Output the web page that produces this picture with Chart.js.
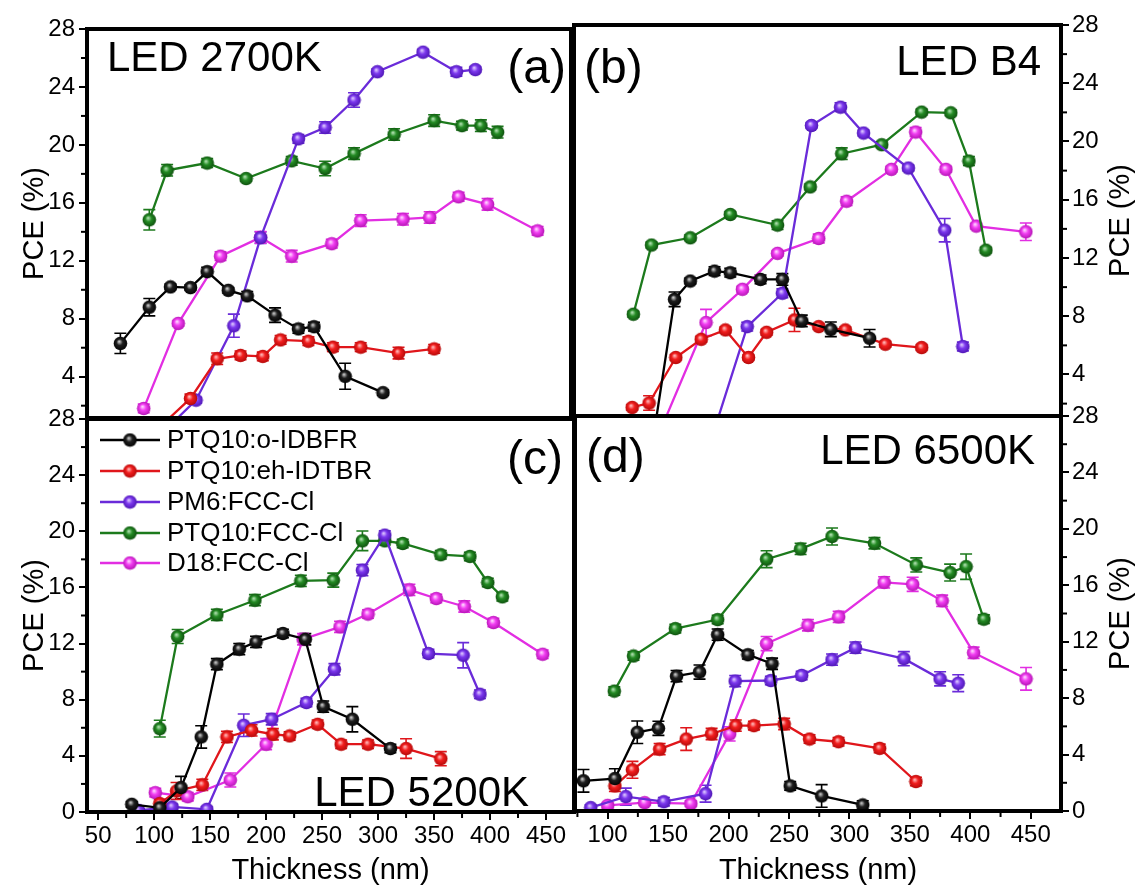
<!DOCTYPE html>
<html><head><meta charset="utf-8">
<script src="https://cdn.jsdelivr.net/npm/chart.js@4.4.0/dist/chart.umd.min.js"></script>
<style>
html,body{margin:0;padding:0;background:#fff;}
#wrap{position:relative;width:1138px;height:888px;overflow:hidden;background:#fff;}
#wrap canvas{position:absolute;left:0;top:0;}
</style></head>
<body><div id="wrap">
<canvas id="pa" width="1138" height="888"></canvas>
<canvas id="pb" width="1138" height="888"></canvas>
<canvas id="pc" width="1138" height="888"></canvas>
<canvas id="pd" width="1138" height="888"></canvas>
</div>
<script>
// ---------- data ----------
const SERIES_NAMES = ['PTQ10:o-IDBFR','PTQ10:eh-IDTBR','PM6:FCC-Cl','PTQ10:FCC-Cl','D18:FCC-Cl'];
const Y_TICKS_TOP = [4,8,12,16,20,24,28];
const Y_TICKS_BOTTOM = [0,4,8,12,16,20,24,28];
const Y_MINOR = [2,6,10,14,18,22,26];
const X_TICKS_C = [50,100,150,200,250,300,350,400,450];
const X_TICKS_D = [100,150,200,250,300,350,400,450];
const X_MINOR = [75,125,175,225,275,325,375,425];

// (a) LED 2700K
const A_X_IDBFR = [70,96,115,133,148,167,184,209,230,244,272,306];
const A_Y_IDBFR = [6.3,8.8,10.2,10.15,11.25,9.96,9.58,8.25,7.3,7.45,4.03,2.9];
const A_E_IDBFR = [0.7,0.6,0.2,0.2,0.3,0.2,0.3,0.5,0.3,0.3,0.9,0.2];
const A_X_IDTBR = [105,133,157,178,198,214,239,261,286,320,352];
const A_Y_IDTBR = [0.5,2.5,5.24,5.47,5.4,6.54,6.45,6.04,6.04,5.63,5.92];
const A_E_IDTBR = [0.2,0.3,0.4,0.3,0.3,0.3,0.3,0.3,0.3,0.4,0.3];
const A_X_PM6 = [110,138,172,196,230,254,280,301,342,372,389];
const A_Y_PM6 = [0.3,2.38,7.52,13.6,20.42,21.2,23.1,25.05,26.4,25.05,25.2];
const A_E_PM6 = [0.2,0.2,0.8,0.4,0.3,0.4,0.5,0.2,0.2,0.3,0.2];
const A_X_PTQ = [96,112,148,183,224,254,280,316,352,377,394,409];
const A_Y_PTQ = [14.83,18.25,18.75,17.68,18.9,18.37,19.4,20.72,21.68,21.33,21.33,20.88];
const A_E_PTQ = [0.7,0.4,0.3,0.2,0.3,0.5,0.4,0.4,0.4,0.3,0.4,0.4];
const A_X_D18 = [91,122,160,196,224,260,286,324,348,374,400,445];
const A_Y_D18 = [1.81,7.68,12.32,13.62,12.32,13.18,14.78,14.87,14.99,16.42,15.9,14.07];
const A_E_D18 = [0.3,0.2,0.3,0.4,0.4,0.3,0.4,0.4,0.4,0.3,0.4,0.3];

// (b) LED B4
const B_X_IDBFR = [140,156,169,189,202,227,245,261,285,317];
const B_Y_IDBFR = [0.5,9.16,10.42,11.1,10.99,10.53,10.53,7.68,7.1,6.49];
const B_E_IDBFR = [0.2,0.5,0.2,0.3,0.3,0.3,0.4,0.4,0.5,0.6];
const B_X_IDTBR = [121,135,157,178,198,217,232,255,275,297,330,360];
const B_Y_IDTBR = [1.74,2.04,5.17,6.42,7.06,5.17,6.9,7.75,7.29,7.06,6.08,5.85];
const B_E_IDTBR = [0.2,0.5,0.2,0.2,0.2,0.2,0.2,0.8,0.2,0.2,0.2,0.2];
const B_X_PM6 = [190,216,245,269,293,312,349,379,394];
const B_Y_PM6 = [0.5,7.29,9.58,21.1,22.36,20.58,18.18,13.91,5.92];
const B_E_PM6 = [0.2,0.3,0.3,0.2,0.3,0.2,0.2,0.8,0.3];
const B_X_PTQ = [122,137,169,202,241,268,294,327,360,384,399,413];
const B_Y_PTQ = [8.14,12.89,13.39,14.99,14.26,16.88,19.16,19.78,22.02,21.97,18.66,12.54];
const B_E_PTQ = [0.2,0.2,0.2,0.2,0.3,0.2,0.4,0.2,0.2,0.2,0.3,0.2];
const B_X_D18 = [145,182,212,241,275,298,335,355,380,405,446];
const B_Y_D18 = [0.3,7.57,9.85,12.32,13.34,15.9,18.09,20.65,18.09,14.19,13.8];
const B_E_D18 = [0.2,0.9,0.2,0.2,0.3,0.3,0.2,0.3,0.2,0.2,0.6];

// (c) LED 5200K
const C_X_IDBFR = [80,105,124,142,156,176,191,215,235,251,277,311];
const C_Y_IDBFR = [0.55,0.3,1.74,5.35,10.53,11.6,12.12,12.72,12.31,7.51,6.61,4.52];
const C_E_IDBFR = [0.2,0.2,0.8,0.8,0.4,0.4,0.4,0.3,0.4,0.4,0.9,0.3];
const C_X_IDTBR = [105,120,143,165,187,206,221,246,267,291,325,356];
const C_Y_IDTBR = [0.6,1.5,1.93,5.35,5.82,5.54,5.42,6.25,4.83,4.83,4.52,3.8];
const C_E_IDTBR = [0.3,0.6,0.4,0.4,0.4,0.4,0.3,0.3,0.3,0.3,0.7,0.5];
const C_X_PM6 = [86,116,147,180,205,236,261,286,306,345,376,391];
const C_Y_PM6 = [0.12,0.36,0.19,6.18,6.61,7.8,10.17,17.23,19.73,11.29,11.17,8.39];
const C_E_PM6 = [0.1,0.2,0.2,0.8,0.4,0.3,0.4,0.4,0.3,0.3,0.9,0.3];
const C_X_PTQ = [105,121,156,190,231,260,286,306,322,356,382,398,411];
const C_Y_PTQ = [5.94,12.5,14.05,15.09,16.47,16.52,19.32,19.32,19.13,18.33,18.21,16.35,15.33];
const C_E_PTQ = [0.6,0.5,0.4,0.4,0.4,0.5,0.7,0.3,0.3,0.3,0.3,0.3,0.3];
const C_X_D18 = [101,130,168,200,233,266,291,328,352,377,403,447];
const C_Y_D18 = [1.38,1.09,2.28,4.83,12.31,13.19,14.1,15.83,15.21,14.64,13.5,11.24];
const C_E_D18 = [0.3,0.3,0.5,0.4,0.4,0.4,0.3,0.4,0.3,0.4,0.3,0.3];

// (d) LED 6500K
const D_X_IDBFR = [80,106,124.5,142,157,176,191,216,236,251,277,311];
const D_Y_IDBFR = [2.14,2.3,5.58,5.86,9.56,9.85,12.5,11.08,10.44,1.78,1.07,0.43];
const D_E_IDBFR = [0.8,0.7,0.8,0.5,0.4,0.5,0.4,0.3,0.4,0.3,0.8,0.3];
const D_X_IDTBR = [106,120.5,143,165,186,206,221,246,267,291,325,355];
const D_Y_IDTBR = [1.78,2.92,4.39,5.1,5.46,6.05,6.05,6.17,5.1,4.91,4.44,2.09];
const D_E_IDTBR = [0.4,0.6,0.4,0.8,0.4,0.4,0.3,0.4,0.3,0.3,0.3,0.3];
const D_X_PM6 = [86,115,146.5,181,205.5,235,260.5,285.6,305,345,375,390];
const D_Y_PM6 = [0.24,1.02,0.66,1.23,9.21,9.25,9.61,10.73,11.58,10.8,9.37,9.06];
const D_E_PM6 = [0.2,0.6,0.3,0.6,0.4,0.3,0.3,0.4,0.4,0.5,0.5,0.6];
const D_X_PTQ = [105.5,121.4,156,191,231.5,259.6,285.6,320.7,355.3,383.3,396.5,411.2];
const D_Y_PTQ = [8.5,10.99,12.93,13.57,17.85,18.58,19.46,18.98,17.44,16.9,17.32,13.6];
const D_E_PTQ = [0.3,0.3,0.3,0.3,0.6,0.4,0.6,0.4,0.5,0.6,0.9,0.3];
const D_X_D18 = [100,130.6,168.8,200.9,231.5,265.7,291.1,328.7,352.3,376.7,402.7,446.1];
const D_Y_D18 = [0.4,0.59,0.52,5.46,11.87,13.17,13.76,16.21,16.07,14.9,11.22,9.37];
const D_E_D18 = [0.2,0.2,0.2,0.5,0.5,0.4,0.4,0.4,0.5,0.4,0.4,0.8];

// ---------- styling ----------
const FONT = "'Liberation Sans', Arial, Helvetica, sans-serif";
const COLORS = [
  {line:'#000000', base:'#202020', light:'#c8c8c8', dark:'#000000'},
  {line:'#e0161b', base:'#f21e1e', light:'#ffb8b8', dark:'#b00808'},
  {line:'#6a2bd9', base:'#7d38ee', light:'#dcc6ff', dark:'#4a14b0'},
  {line:'#1c7a1c', base:'#248b24', light:'#b0e0b0', dark:'#0c4c0c'},
  {line:'#e22ee2', base:'#f23ef2', light:'#ffd6ff', dark:'#b012b0'}
];
function makeBall(c) {
  const cv = document.createElement('canvas');
  cv.width = 15; cv.height = 15;
  const g = cv.getContext('2d');
  const gr = g.createRadialGradient(6.2, 5.6, 0.4, 7.5, 7.5, 7.2);
  gr.addColorStop(0, c.light);
  gr.addColorStop(0.4, c.base);
  gr.addColorStop(1, c.dark);
  g.fillStyle = gr;
  g.beginPath(); g.arc(7.5, 7.5, 6.8, 0, Math.PI * 2); g.fill();
  return cv;
}
const BALLS = COLORS.map(makeBall);

function makePanel(id, p) {
  const W = 1138, H = 888;
  const yW = p.ySide === 'left' ? 72 : W - p.area.r;
  const xH = p.xTicks ? H - p.area.b : 0;
  const pad = {
    left: p.ySide === 'left' ? p.area.l - yW : p.area.l,
    right: p.ySide === 'left' ? W - p.area.r : 0,
    top: p.area.t,
    bottom: p.xTicks ? 0 : H - p.area.b
  };
  const datasets = p.series.map((s, i) => ({
    label: SERIES_NAMES[i],
    data: s.x.map((xv, j) => ({x: xv, y: s.y[j]})),
    err: s.e,
    borderColor: COLORS[i].line,
    backgroundColor: COLORS[i].line,
    borderWidth: 2.3,
    pointStyle: BALLS[i],
    pointRadius: 7,
    tension: 0,
    fill: false,
    clip: 0
  }));
  const tickFont = {family: FONT, size: 24};
  const titleFont = {family: FONT, size: 29};

  const plug = {
    id: 'deco' + id,
    beforeDatasetsDraw(chart) {
      const ctx = chart.ctx, a = chart.chartArea;
      const xs = chart.scales.x, ys = chart.scales.y;
      ctx.save();
      ctx.beginPath(); ctx.rect(a.left, a.top, a.right - a.left, a.bottom - a.top); ctx.clip();
      chart.data.datasets.forEach((ds, i) => {
        ctx.strokeStyle = COLORS[i].line;
        ctx.lineWidth = 1.6;
        ds.data.forEach((pt, j) => {
          const e = ds.err[j];
          const px = xs.getPixelForValue(pt.x);
          const y1 = ys.getPixelForValue(pt.y + e);
          const y2 = ys.getPixelForValue(pt.y - e);
          ctx.beginPath();
          ctx.moveTo(px, y1); ctx.lineTo(px, y2);
          ctx.moveTo(px - 6, y1); ctx.lineTo(px + 6, y1);
          ctx.moveTo(px - 6, y2); ctx.lineTo(px + 6, y2);
          ctx.stroke();
        });
      });
      ctx.restore();
    },
    afterDraw(chart) {
      const ctx = chart.ctx, a = chart.chartArea;
      const xs = chart.scales.x, ys = chart.scales.y;
      ctx.save();
      ctx.strokeStyle = '#000'; ctx.lineWidth = 2;
      Y_MINOR.forEach(v => {
        const py = ys.getPixelForValue(v);
        if (py < a.top || py > a.bottom) return;
        ctx.beginPath();
        if (p.ySide === 'left') { ctx.moveTo(a.left, py); ctx.lineTo(a.left - 6, py); }
        else { ctx.moveTo(a.right, py); ctx.lineTo(a.right + 6, py); }
        ctx.stroke();
      });
      if (p.xTicks) {
        X_MINOR.forEach(v => {
          const px = xs.getPixelForValue(v);
          if (px < a.left || px > a.right) return;
          ctx.beginPath(); ctx.moveTo(px, a.bottom); ctx.lineTo(px, a.bottom + 6); ctx.stroke();
        });
      }
      ctx.lineWidth = 4;
      ctx.strokeRect(a.left, a.top, a.right - a.left, a.bottom - a.top);
      ctx.fillStyle = '#000';
      ctx.textBaseline = 'alphabetic';
      p.notes.forEach(n => {
        ctx.font = n.size + 'px ' + FONT;
        ctx.textAlign = n.align;
        ctx.fillText(n.t, n.x, n.y);
      });
      if (p.ySide === 'right') {
        ctx.save();
        ctx.translate(1121, (a.top + a.bottom) / 2);
        ctx.rotate(-Math.PI / 2);
        ctx.font = '29px ' + FONT;
        ctx.textAlign = 'center'; ctx.textBaseline = 'middle';
        ctx.fillText('PCE (%)', 0, 0);
        ctx.restore();
      }
      if (p.legend) {
        const rows = [440, 471, 502, 533, 563];
        SERIES_NAMES.forEach((name, i) => {
          const ry = rows[i];
          ctx.strokeStyle = COLORS[i].line; ctx.lineWidth = 2.5;
          ctx.beginPath(); ctx.moveTo(100, ry); ctx.lineTo(160, ry); ctx.stroke();
          ctx.drawImage(BALLS[i], 130 - 7.5, ry - 7.5);
          ctx.fillStyle = '#000';
          ctx.font = '26px ' + FONT;
          ctx.textAlign = 'left'; ctx.textBaseline = 'middle';
          ctx.fillText(name, 167, ry + 1);
        });
      }
      ctx.restore();
    }
  };

  return new Chart(document.getElementById(id), {
    type: 'line',
    data: {datasets},
    options: {
      responsive: false,
      animation: false,
      devicePixelRatio: 1,
      events: [],
      layout: {padding: pad},
      plugins: {legend: {display: false}, tooltip: {enabled: false}},
      scales: {
        x: {
          type: 'linear', min: p.xMin, max: p.xMax,
          display: !!p.xTicks,
          afterBuildTicks: s => { if (p.xTicks) s.ticks = p.xTicks.map(v => ({value: v})); },
          afterFit: s => { s.height = xH; },
          grid: {drawOnChartArea: false, drawTicks: true, tickLength: 8, color: '#000', lineWidth: 2},
          border: {display: false},
          ticks: {font: tickFont, color: '#000', padding: 2, maxRotation: 0, autoSkip: false},
          title: {display: true, text: 'Thickness (nm)', font: titleFont, color: '#000', padding: {top: 0, bottom: 0}}
        },
        y: {
          type: 'linear', position: p.ySide, min: p.yMin, max: p.yMax,
          afterBuildTicks: s => { s.ticks = p.yTicks.map(v => ({value: v})); },
          afterFit: s => { s.width = yW; },
          grid: {drawOnChartArea: false, drawTicks: true, tickLength: 8, color: '#000', lineWidth: 2},
          border: {display: false},
          ticks: {font: tickFont, color: '#000', padding: p.ySide === 'left' ? 4 : 3},
          title: {display: p.ySide === 'left', text: 'PCE (%)', font: titleFont, color: '#000', padding: {top: 3, bottom: 0}}
        }
      }
    },
    plugins: [plug]
  });
}

makePanel('pa', {
  area: {l: 87, t: 29, r: 571, b: 418}, ySide: 'left',
  xMin: 40, xMax: 475, yMin: 1.15, yMax: 28, yTicks: Y_TICKS_TOP, xTicks: null,
  series: [
    {x: A_X_IDBFR, y: A_Y_IDBFR, e: A_E_IDBFR},
    {x: A_X_IDTBR, y: A_Y_IDTBR, e: A_E_IDTBR},
    {x: A_X_PM6, y: A_Y_PM6, e: A_E_PM6},
    {x: A_X_PTQ, y: A_Y_PTQ, e: A_E_PTQ},
    {x: A_X_D18, y: A_Y_D18, e: A_E_D18}
  ],
  notes: [
    {t: 'LED 2700K', x: 107, y: 71, size: 42, align: 'left'},
    {t: '(a)', x: 566, y: 83, size: 48, align: 'right'}
  ]
});
makePanel('pb', {
  area: {l: 574, t: 25, r: 1061, b: 416}, ySide: 'right',
  xMin: 73, xMax: 475, yMin: 1.15, yMax: 28, yTicks: Y_TICKS_TOP, xTicks: null,
  series: [
    {x: B_X_IDBFR, y: B_Y_IDBFR, e: B_E_IDBFR},
    {x: B_X_IDTBR, y: B_Y_IDTBR, e: B_E_IDTBR},
    {x: B_X_PM6, y: B_Y_PM6, e: B_E_PM6},
    {x: B_X_PTQ, y: B_Y_PTQ, e: B_E_PTQ},
    {x: B_X_D18, y: B_Y_D18, e: B_E_D18}
  ],
  notes: [
    {t: '(b)', x: 584, y: 83, size: 48, align: 'left'},
    {t: 'LED B4', x: 1041, y: 75, size: 42, align: 'right'}
  ]
});
makePanel('pc', {
  area: {l: 87, t: 419, r: 574, b: 812}, ySide: 'left',
  xMin: 40, xMax: 475, yMin: 0, yMax: 28, yTicks: Y_TICKS_BOTTOM, xTicks: X_TICKS_C,
  series: [
    {x: C_X_IDBFR, y: C_Y_IDBFR, e: C_E_IDBFR},
    {x: C_X_IDTBR, y: C_Y_IDTBR, e: C_E_IDTBR},
    {x: C_X_PM6, y: C_Y_PM6, e: C_E_PM6},
    {x: C_X_PTQ, y: C_Y_PTQ, e: C_E_PTQ},
    {x: C_X_D18, y: C_Y_D18, e: C_E_D18}
  ],
  legend: true,
  notes: [
    {t: '(c)', x: 563, y: 474, size: 48, align: 'right'},
    {t: 'LED 5200K', x: 529, y: 806, size: 42, align: 'right'}
  ]
});
makePanel('pd', {
  area: {l: 575, t: 416, r: 1061, b: 811}, ySide: 'right',
  xMin: 73, xMax: 475, yMin: 0, yMax: 28, yTicks: Y_TICKS_BOTTOM, xTicks: X_TICKS_D,
  series: [
    {x: D_X_IDBFR, y: D_Y_IDBFR, e: D_E_IDBFR},
    {x: D_X_IDTBR, y: D_Y_IDTBR, e: D_E_IDTBR},
    {x: D_X_PM6, y: D_Y_PM6, e: D_E_PM6},
    {x: D_X_PTQ, y: D_Y_PTQ, e: D_E_PTQ},
    {x: D_X_D18, y: D_Y_D18, e: D_E_D18}
  ],
  notes: [
    {t: '(d)', x: 586, y: 472, size: 48, align: 'left'},
    {t: 'LED 6500K', x: 1035, y: 464, size: 42, align: 'right'}
  ]
});
</script>
</body></html>
